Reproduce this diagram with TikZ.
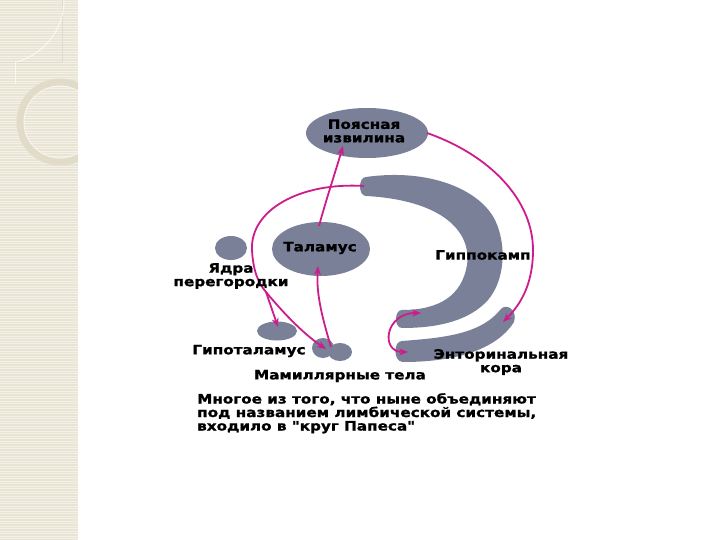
\documentclass[tikz,border=0pt]{standalone}
\usepackage{fontspec}
\newfontfamily\lf{DejaVu Sans}[FakeStretch=1.17, BoldFeatures={FakeBold=1.2}]
\usetikzlibrary{shapes.geometric,arrows.meta}
\definecolor{panel}{RGB}{233,229,212}
\definecolor{deco}{RGB}{225,219,202}
\definecolor{pinkarr}{RGB}{205,28,140}
\definecolor{blobc}{RGB}{122,128,152}
\tikzset{
  blob/.style={fill=blobc, draw=none, ellipse, inner sep=0pt},
  lbl/.style={font=\lf\bfseries\fontsize{13}{14.5}\selectfont, text=black, inner sep=0pt, align=center},
  arrline/.style={draw=pinkarr, line width=1.8pt},
  arr/.style={arrline, -{Stealth[length=9pt,width=7pt]}},
  darr/.style={arrline, {Stealth[length=9pt,width=7pt]}-{Stealth[length=9pt,width=7pt]}},
}
\begin{document}
\begin{tikzpicture}[x=1pt,y=-1pt]
\useasboundingbox (0,0) rectangle (720,540);
\fill[white] (0,0) rectangle (720,540);
% left decorative panel
\fill[panel] (0,0) rectangle (78,540);
\foreach \k in {0,...,215} {
  \draw[white, opacity=0.45, line width=0.8pt] (0,{\k*2.5+1}) -- (78,{\k*2.5+1});
}
\begin{scope}
\clip (0,0) rectangle (78,540);
\draw[deco, line width=0.8pt] (0,62) -- (62,62) -- (62,0);
\draw[white, opacity=0.7, line width=1pt] (64,0) arc[start angle=0, end angle=76, radius=64];
\draw[white, opacity=0.7, line width=1pt] (15,62) -- (15,84);
\draw[deco, line width=7pt] (60,122) circle[radius=40];
\draw[white, opacity=0.5, line width=1pt] (60,122) circle[radius=36];
\end{scope}
% blobs
\node[blob, minimum width=122, minimum height=50] (cing) at (367,133) {};
\node[blob, minimum width=98, minimum height=54] (thal) at (321,249) {};
\node[blob, minimum width=32, minimum height=24] (sept) at (231,248) {};
\node[blob, minimum width=40, minimum height=19] (hypo) at (277,331) {};
\node[blob, minimum width=22, minimum height=20] (mam1) at (323,348) {};
\node[blob, minimum width=24, minimum height=18] (mam2) at (340,352) {};
% hippocampus
\fill[blobc] (366,177) .. controls (430,168) and (480,190) .. (495,220)
  .. controls (507,245) and (505,280) .. (488,300)
  .. controls (470,320) and (440,328) .. (402,328)
  .. controls (394,328) and (394,310) .. (402,310)
  .. controls (440,310) and (462,295) .. (467,265)
  .. controls (472,230) and (440,200) .. (366,196)
  .. controls (358,196) and (358,177) .. (366,177) -- cycle;
% entorhinal cortex
\fill[blobc] (402,341) .. controls (440,338) and (480,335) .. (500,310)
  .. controls (506,302) and (518,310) .. (514,322)
  .. controls (495,352) and (450,362) .. (403,362)
  .. controls (393,362) and (393,341) .. (402,341) -- cycle;
% connector coordinates
\coordinate (hipA) at (364,186);
\coordinate (hipB) at (421,313);
\coordinate (entA) at (408,352);
\coordinate (entB) at (503,322);
\coordinate (fx) at (266,292);
\coordinate (thT) at (319,226);
\coordinate (cgB) at (343,146);
\coordinate (cgR) at (427,133);
\coordinate (thB) at (318,266);
\coordinate (mamT) at (331,347);
\coordinate (mamA) at (326,349);
\coordinate (hypA) at (278,327);
% arrows
\draw[arr] (thT) .. controls (326,200) and (336,170) .. (cgB);
\draw[arr] (cgR) .. controls (490,155) and (533,200) .. (533,250)
  .. controls (533,285) and (520,305) .. (entB);
\draw[arrline] (hipA) .. controls (300,182) and (250,210) .. (252,250)
  .. controls (253,270) and (258,283) .. (fx);
\draw[arr] (fx) -- (hypA);
\draw[arr] (fx) .. controls (285,315) and (305,335) .. (mamA);
\draw[arr] (mamT) .. controls (323,320) and (316,295) .. (thB);
\draw[darr] (hipB) .. controls (385,313) and (380,352) .. (entA);
% labels
\node[lbl] (tcing) at (364,131) {Поясная\\[-1pt]извилина};
\node[lbl] (tthal) at (320,248) {Таламус};
\node[lbl] (thip) at (483,255) {Гиппокамп};
\node[lbl] (tsept) at (231,276) {Ядра\\[-1pt]перегородки};
\node[lbl] (thypo) at (249,351) {Гипоталамус};
\node[lbl] (tmam) at (340,376) {Мамиллярные тела};
\node[lbl] (tent) at (501,362) {Энторинальная\\[-1pt]кора};
\node[lbl, align=left, anchor=north west] (tcap) at (197,393)
  {Многое из того, что ныне объединяют\\[-1pt]под названием лимбической системы,\\[-1pt]входило в "круг Папеса"};
\end{tikzpicture}
\end{document}
